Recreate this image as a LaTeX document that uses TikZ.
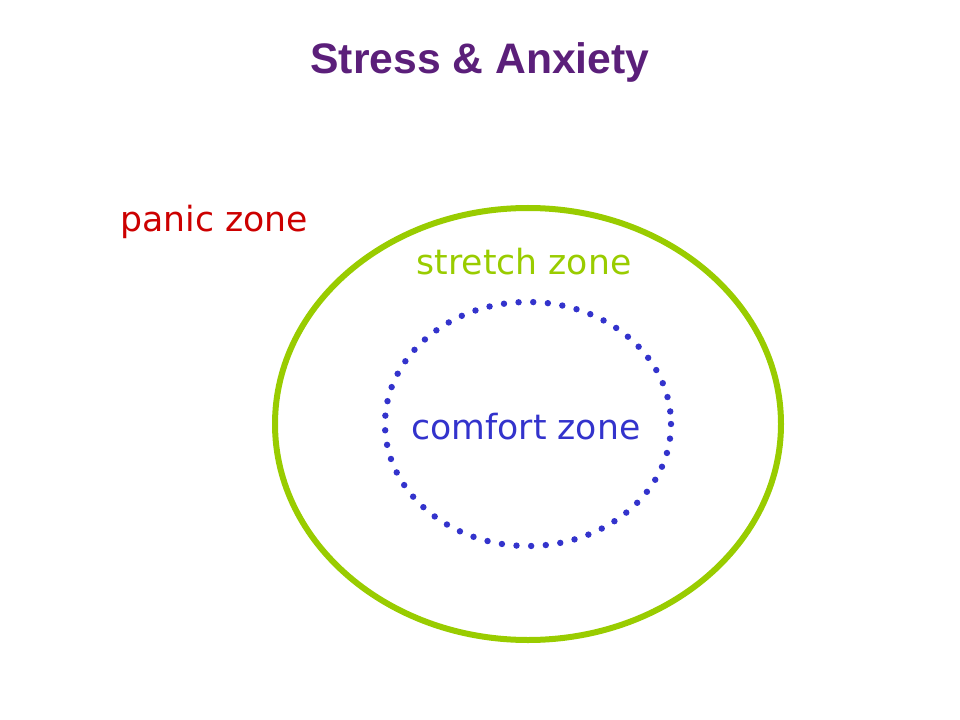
\documentclass[tikz,border=0pt]{standalone}
\usepackage{fontspec}
\setmainfont{DejaVu Sans}
\newfontfamily\titlefont{Liberation Sans}
\definecolor{ttl}{HTML}{5B1F7A}
\definecolor{grn}{HTML}{99CC00}
\definecolor{blu}{HTML}{3333CC}
\definecolor{rd}{HTML}{CC0000}
\begin{document}
\begin{tikzpicture}[x=0.75pt,y=-0.75pt,
  lbl/.style={font=\fontsize{26}{30}\selectfont}]
\useasboundingbox (0,0) rectangle (960,720);
\node[font=\titlefont\bfseries\fontsize{32}{36}\selectfont,text=ttl] (title) at (480,62) {Stress \& Anxiety};
\draw[grn,line width=4.5pt] (528,424) ellipse [x radius=253, y radius=216];
\draw[blu,line width=4.8pt,line cap=round,dash pattern=on 0pt off 11pt] (528,424) ellipse [x radius=143, y radius=122];
\node[lbl,text=rd] (panic) at (214,222) {panic zone};
\node[lbl,text=grn] (stretch) at (524,262) {stretch zone};
\node[lbl,text=blu] (comfort) at (526,427) {comfort zone};
\end{tikzpicture}
\end{document}
